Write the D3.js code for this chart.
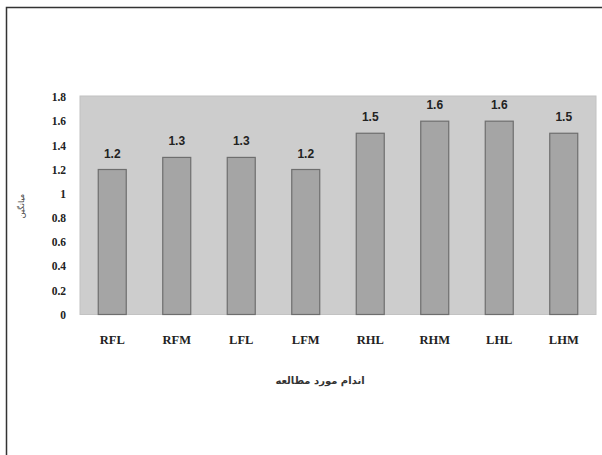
<!DOCTYPE html>
<html>
<head>
<meta charset="utf-8">
<script src="https://cdn.jsdelivr.net/npm/d3@7"></script>
<style>
  body { margin: 0; background: #fff; }
  svg { display: block; }
</style>
</head>
<body>
<div id="chart"></div>
<script>
// chart data
var categories = ["RFL", "RFM", "LFL", "LFM", "RHL", "RHM", "LHL", "LHM"];
var values = [1.2, 1.3, 1.3, 1.2, 1.5, 1.6, 1.6, 1.5];
var yTicks = [0, 0.2, 0.4, 0.6, 0.8, 1, 1.2, 1.4, 1.6, 1.8];
var xTitle = "اندام مورد مطالعه";
var yTitle = "میانگین";

const width = 602,
  height = 455;
const margin = { top: 96, right: 6, bottom: 140, left: 80 };

var svg = d3
  .select("#chart")
  .append("svg")
  .attr("width", width)
  .attr("height", height);

// outer frame (top and left edges only show)
svg
  .append("path")
  .attr("d", "M6.5,455V7.5H602")
  .attr("fill", "none")
  .attr("stroke", "#333")
  .attr("stroke-width", 1.5);

const x = d3
  .scaleBand()
  .domain(categories)
  .range([margin.left, width - margin.right])
  .paddingInner(0.566)
  .paddingOuter(0.283);

const y = d3
  .scaleLinear()
  .domain([0, 1.8])
  .range([height - margin.bottom - 0.5, margin.top + 1]);

//plot background
svg
  .append("rect")
  .attr("x", margin.left)
  .attr("y", y(1.8) - 1)
  .attr("width", width - margin.right - margin.left)
  .attr("height", y(0) - y(1.8) + 1)
  .attr("fill", "#cdcdcd")
  .attr("stroke", "#c2c2c2");

//bars
svg
  .selectAll(".bar")
  .data(values)
  .join("rect")
  .attr("class", "bar")
  .attr("x", (d, i) => x(categories[i]))
  .attr("y", (d) => y(d))
  .attr("width", x.bandwidth())
  .attr("height", (d) => y(0) - y(d))
  .attr("fill", "#a5a5a5")
  .attr("stroke", "#6e6e6e")
  .attr("stroke-width", 1.2);

//value labels
svg
  .selectAll(".val")
  .data(values)
  .join("text")
  .attr("class", "val")
  .attr("x", (d, i) => x(categories[i]) + x.bandwidth() / 2)
  .attr("y", (d) => y(d) - 12)
  .attr("text-anchor", "middle")
  .attr("font-family", "Liberation Sans, Arial, sans-serif")
  .attr("font-weight", "bold")
  .attr("font-size", 12)
  .attr("fill", "#222")
  .text((d) => d.toFixed(1));

//y axis
var yAxis = svg
  .append("g")
  .attr("transform", "translate(" + (margin.left - 11) + ",0)")
  .call(
    d3
      .axisLeft(y)
      .tickValues(yTicks)
      .tickSize(0)
      .tickFormat((d) => String(Math.round(d * 10) / 10))
  );
yAxis.select(".domain").remove();
yAxis
  .selectAll("text")
  .attr("font-family", "Liberation Serif, Times New Roman, serif")
  .attr("font-weight", "bold")
  .attr("font-size", 11.5)
  .attr("fill", "#222");

//x axis
var xAxis = svg
  .append("g")
  .attr("transform", "translate(0," + (y(0) + 18) + ")")
  .call(d3.axisBottom(x).tickSize(0));
xAxis.select(".domain").remove();
xAxis
  .selectAll("text")
  .attr("font-family", "Liberation Serif, Times New Roman, serif")
  .attr("font-weight", "bold")
  .attr("font-size", 12.5)
  .attr("fill", "#222");

//axis titles
svg
  .append("text")
  .attr("x", 320)
  .attr("y", 384)
  .attr("text-anchor", "middle")
  .attr("direction", "rtl")
  .attr("font-family", "DejaVu Sans, sans-serif")
  .attr("font-weight", "bold")
  .attr("font-size", 10)
  .attr("fill", "#333")
  .text(xTitle);

svg
  .append("text")
  .attr("transform", "translate(24,206) rotate(-90)")
  .attr("text-anchor", "middle")
  .attr("direction", "rtl")
  .attr("font-family", "DejaVu Sans, sans-serif")
  .attr("font-size", 8)
  .attr("fill", "#444")
  .text(yTitle);
</script>
</body>
</html>
